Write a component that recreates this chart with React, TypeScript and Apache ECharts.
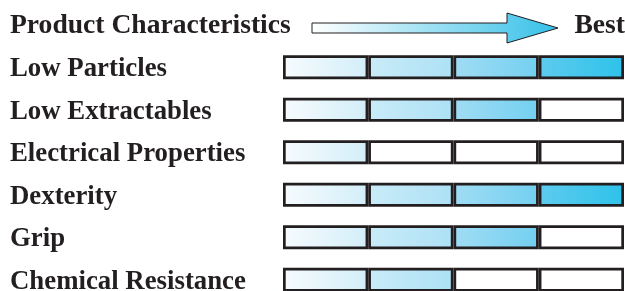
import React, { useEffect, useRef } from "react";
import * as echarts from "echarts";

const categories = [
  "Low Particles",
  "Low Extractables",
  "Electrical Properties",
  "Dexterity",
  "Grip",
  "Chemical Resistance",
];
const scores = [4, 3, 1, 4, 3, 2];
const segments = [1, 2, 3, 4];
const titleText = "Product Characteristics";
const bestText = "Best";

const segColors: [string, string][] = [
  ["#f6fbfe", "#d3eef9"],
  ["#c9ebf8", "#ade1f5"],
  ["#a0dcf4", "#73d0f0"],
  ["#5dcbee", "#2fc2ea"],
];
const FONT = "'Liberation Serif', 'Times New Roman', serif";
const INK = "#231f20";

export default function App() {
  const ref = useRef<HTMLDivElement>(null);
  useEffect(() => {
    if (!ref.current) return;
    const chart = echarts.init(ref.current, null, { renderer: "svg" });
    const series = segments.map((seg, s) => ({
      type: "bar",
      stack: "total",
      barWidth: 24,
      data: categories.map((_, i) => ({
        value: 1,
        itemStyle: {
          color:
            scores[i] >= seg
              ? new echarts.graphic.LinearGradient(0, 0, 1, 0, [
                  { offset: 0, color: segColors[s][0] },
                  { offset: 1, color: segColors[s][1] },
                ])
              : "#ffffff",
          borderColor: INK,
          borderWidth: 2.7,
        },
      })),
      silent: true,
    }));
    chart.setOption({
      animation: false,
      grid: { left: 283, right: 1, top: 46, height: 255 },
      xAxis: { type: "value", min: 0, max: 4, show: false },
      yAxis: {
        type: "category",
        data: categories,
        inverse: true,
        axisLine: { show: false },
        axisTick: { show: false },
        splitLine: { show: false },
        axisLabel: {
          align: "left",
          margin: 273,
          fontFamily: FONT,
          fontWeight: "bold",
          fontSize: 26.8,
          lineHeight: 21,
          color: INK,
        },
      },
      series,
      graphic: [
        {
          type: "text",
          left: 10,
          top: 9,
          style: {
            text: titleText,
            font: `bold 27.6px ${FONT}`,
            fill: INK,
          },
        },
        {
          type: "text",
          right: 0,
          top: 9,
          style: {
            text: bestText,
            font: `bold 27.6px ${FONT}`,
            fill: INK,
          },
        },
        {
          type: "polygon",
          shape: {
            points: [
              [312, 23],
              [507, 23],
              [507, 13],
              [558, 28],
              [507, 43],
              [507, 33],
              [312, 33],
            ],
          },
          style: {
            fill: new echarts.graphic.LinearGradient(0, 0, 1, 0, [
              { offset: 0, color: "#ffffff" },
              { offset: 1, color: "#35c0e8" },
            ]),
            stroke: INK,
            lineWidth: 1,
          },
        },
      ],
    });
    return () => chart.dispose();
  }, []);
  return (
    <div
      ref={ref}
      style={{ position: "fixed", left: 0, top: 0, width: 625, height: 320 }}
    />
  );
}
